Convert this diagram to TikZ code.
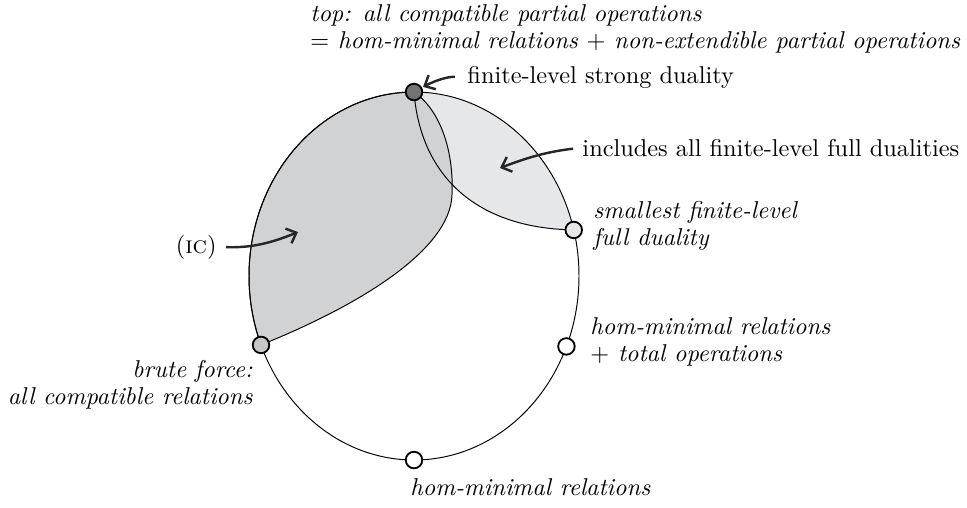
\documentclass[tikz,border=0pt]{standalone}
\usetikzlibrary{arrows.meta, calc, backgrounds}
\definecolor{icfill}{RGB}{209,210,212}
\definecolor{fullfill}{RGB}{230,231,233}
\tikzset{
  level/.style = {
    circle,
    draw,
    line width=0.75pt,
    minimum size=6.8pt,
    inner sep=0pt
  },
  level_top/.style = {level, fill=black!55},
  level_brute/.style = {level, fill=black!22},
  level_small/.style = {level, fill=fullfill},
  level_open/.style = {level, fill=white},
  note/.style = {
    inner sep=0pt,
    font=\fontsize{10}{11.1}\selectfont\itshape,
    align=left
  },
  pointer/.style = {
    line width=1pt,
    -{Straight Barb[length=3.5pt, width=6.5pt]},
    draw=black!85
  }
}
\begin{document}
\begin{tikzpicture}[
  x=0.411pt, y=-0.411pt % one unit = one pixel of the reference
]
\useasboundingbox (0,0) rectangle (967,507);

% ===== Oval =====
\coordinate (c) at (414,276);

% ===== Levels on the oval =====
\node (top) [level_top] at ($(c)+(-90:165 and 184)$) {};
\node (smallest) [level_small] at ($(c)+(-14.5:165 and 184)$) {};
\node (homtot) [level_open] at ($(c)+(22.5:165 and 184)$) {};
\node (homminimal) [level_open] at ($(c)+(90:165 and 184)$) {};
\node (brute) [level_brute] at ($(c)+(158:165 and 184)$) {};

% ===== Regions (under the levels) =====
\begin{scope}[on background layer, line width=0.75pt]
  \fill [fullfill] (top.center) arc[start angle=270, end angle=345.5, x radius=165, y radius=184]
    .. controls (470,228) and (420,170) .. (top.center);
  \filldraw [fill=icfill] (top.center) arc[start angle=270, end angle=158, x radius=165, y radius=184]
    .. controls (360,305) and (450,250) .. (452,195)
    .. controls (454,150) and (440,110) .. (top.center);
  \draw (smallest.center) .. controls (470,228) and (420,170) .. (top.center);
  \draw (c) ellipse [x radius=165, y radius=184];
\end{scope}

% ===== Labels =====
\node (toplbl) [note, anchor=north west] at (310,3.8) {top: all compatible partial operations\\$=$ hom-minimal relations $+$ non-extendible partial operations};
\node (strong) [inner sep=0pt, anchor=base west] at (467,83) {finite-level strong duality};
\node (incl) [inner sep=0pt, anchor=base west] at (582,156) {includes all finite-level full dualities};
\node (ic) [inner sep=0pt, anchor=base east] at (217,253) {(\textsc{ic})};
\node (smallestlbl) [note, anchor=north west] at (593,201) {smallest finite-level\\full duality};
\node (homtotlbl) [note, anchor=north west] at (590,317) {hom-minimal relations\\$+$ total operations};
\node (brutelbl) [note, align=right, anchor=north east] at (253,360) {brute force:\\all compatible relations};
\node (homminimallbl) [note, anchor=base west] at (410,495) {hom-minimal relations};

% ===== Pointers =====
\coordinate (fullin) at (500,168);
\coordinate (icin) at (298,232);
\draw [pointer, shorten <=5pt, shorten >=0.5pt] (strong.west) to[bend right=14] (top);
\draw [pointer, shorten <=3.7pt] (incl.west) to[bend right=7] (fullin);
\draw [pointer, shorten <=3.7pt] (ic.east) to[bend right=12] (icin);

\end{tikzpicture}
\end{document}
